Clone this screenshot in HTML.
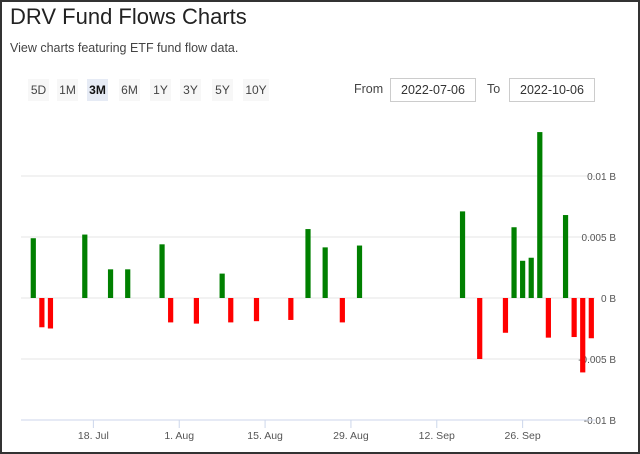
<!DOCTYPE html>
<html><head><meta charset="utf-8"><style>
html,body{margin:0;padding:0;background:#fff;}
body{width:640px;height:454px;overflow:hidden;font-family:"Liberation Sans",sans-serif;position:relative;}
#frame{position:absolute;left:0;top:0;width:636px;height:450px;border:2px solid #333;}
h1{position:absolute;left:10px;top:4px;margin:0;font-size:22px;font-weight:normal;color:#222;}
.sub{position:absolute;left:10px;top:41px;font-size:12.5px;color:#444;}
.btn{position:absolute;top:79px;height:22px;line-height:22px;font-size:12px;color:#444;background:#f7f7f7;text-align:center;width:21px;}
.btn.on{background:#e6ebf5;color:#111;font-weight:bold;}
.lbl{position:absolute;top:82px;font-size:12.5px;color:#444;}
.inp{position:absolute;top:78px;height:22px;line-height:22px;border:1px solid #ccc;font-size:12.5px;color:#333;text-align:center;width:84px;}
svg{position:absolute;left:0;top:0;}
</style></head><body>
<div id="frame"></div>
<h1>DRV Fund Flows Charts</h1>
<div class="sub">View charts featuring ETF fund flow data.</div>
<div class="btn" style="left:28px">5D</div>
<div class="btn" style="left:57px">1M</div>
<div class="btn on" style="left:87px">3M</div>
<div class="btn" style="left:119px">6M</div>
<div class="btn" style="left:150px">1Y</div>
<div class="btn" style="left:180px">3Y</div>
<div class="btn" style="left:212px">5Y</div>
<div class="btn" style="left:243px;width:26px">10Y</div>
<div class="lbl" style="left:354px">From</div>
<div class="inp" style="left:390px">2022-07-06</div>
<div class="lbl" style="left:487px">To</div>
<div class="inp" style="left:509px">2022-10-06</div>
<svg id="chart" width="640" height="454"></svg>
<script>
const dates=["2022-07-07","2022-07-08","2022-07-11","2022-07-15","2022-07-20","2022-07-22","2022-07-28","2022-07-29","2022-08-03","2022-08-08","2022-08-09","2022-08-12","2022-08-18","2022-08-22","2022-08-24","2022-08-26","2022-08-30","2022-09-15","2022-09-19","2022-09-22","2022-09-23","2022-09-26","2022-09-27","2022-09-28","2022-09-29","2022-10-03","2022-10-04","2022-10-05","2022-10-06"];
const flows=[0.0049,-0.0024,-0.0025,0.0052,0.00235,0.00235,0.0044,-0.0020,-0.0021,0.0020,-0.0020,-0.0019,-0.0018,0.00565,0.00415,-0.0020,0.0043,0.0071,-0.0050,-0.00285,0.0058,0.00305,0.0033,0.0136,-0.00325,0.0068,-0.0032,-0.0061,-0.0033];
const yTicks=[0.01,0.005,0,-0.005,-0.01];
const yTickLabels=["0.01 B","0.005 B","0 B","-0.005 B","-0.01 B"];
const xTickDates=["2022-07-18","2022-08-01","2022-08-15","2022-08-29","2022-09-12","2022-09-26"];
const xTickLabels=["18. Jul","1. Aug","15. Aug","29. Aug","12. Sep","26. Sep"];

const svg=document.getElementById('chart');
const NS="http://www.w3.org/2000/svg";
const start=new Date("2022-07-06T00:00:00Z");
function wdIndex(s){let d=new Date(s+"T00:00:00Z");let n=0;let c=new Date(start);while(c<d){c.setUTCDate(c.getUTCDate()+1);const w=c.getUTCDay();if(w!==0&&w!==6)n++;}return n;}
function X(s){return 24.7+wdIndex(s)*8.585;}
function Y(v){return 298-v*12200;}
function mk(t,a){const e=document.createElementNS(NS,t);for(const k in a)e.setAttribute(k,a[k]);svg.appendChild(e);return e;}
yTicks.forEach((v,i)=>{
  if(v!==-0.01){const g=mk('line',{x1:21,x2:595,y1:Y(v),y2:Y(v),stroke:'#e6e6e6','stroke-width':1});
  
  }
  const t=mk('text',{x:616,y:Y(v)+4,'text-anchor':'end','font-size':10,fill:'#555','font-family':'Liberation Sans, sans-serif'});
  t.textContent=yTickLabels[i];
  
  
});
const ax=mk('line',{x1:21,x2:595,y1:420,y2:420,stroke:'#ccd6eb','stroke-width':1});


xTickDates.forEach((d,i)=>{
  const x=X(d);
  const tk=mk('line',{x1:x,x2:x,y1:420,y2:428,stroke:'#ccd6eb','stroke-width':1});
  
  
  const t=mk('text',{x:x,y:439,'text-anchor':'middle','font-size':10.5,fill:'#555','font-family':'Liberation Sans, sans-serif'});
  t.textContent=xTickLabels[i];
  
  
});
dates.forEach((d,i)=>{
  const v=flows[i];const x=X(d);const y0=Y(0),y1=Y(v);
  const r=mk('rect',{x:x-2.6,y:Math.min(y0,y1),width:5.2,height:Math.abs(y1-y0),fill:v>=0?'#008000':'#ff0000'});
  
  
});
</script>
</body></html>
